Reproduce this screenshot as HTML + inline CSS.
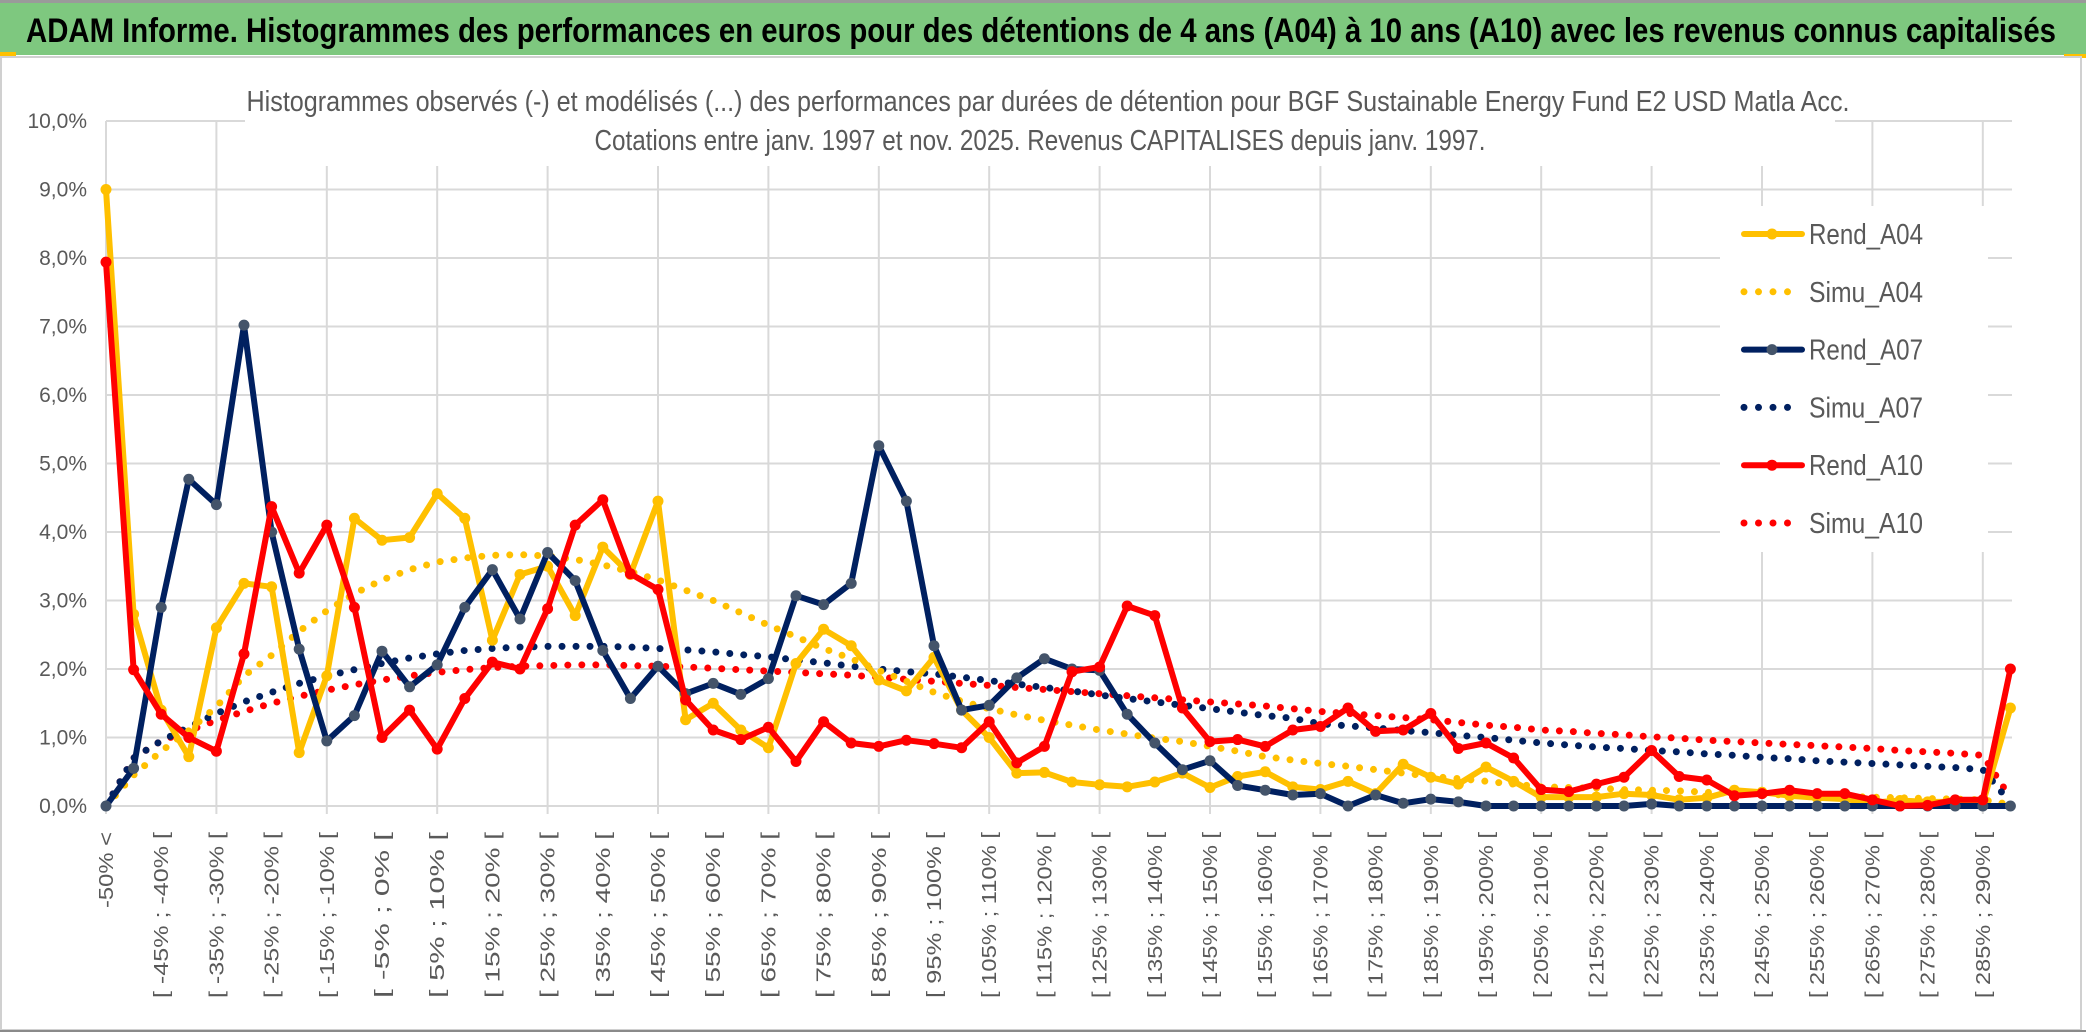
<!DOCTYPE html>
<html><head><meta charset="utf-8">
<style>
html,body{margin:0;padding:0;background:#fff;}
svg{display:block;}
text{font-family:"Liberation Sans Narrow","Liberation Sans",sans-serif;}
</style></head>
<body>
<svg id="chart" width="2086" height="1033" viewBox="0 0 2086 1033" xmlns="http://www.w3.org/2000/svg">
  <rect x="0" y="0" width="2086" height="1033" fill="#fff"/>
  <rect x="0" y="0" width="2086" height="3" fill="#9a9a9a"/>
  <rect x="0" y="3" width="2086" height="52" fill="#7ec87f"/>
  <rect x="0" y="52" width="16" height="4" fill="#ffc000"/>
  <rect x="2064" y="54" width="22" height="4" fill="#ffc000"/>
  <text x="26" y="42" font-size="34" font-weight="bold" fill="#000" textLength="2030" lengthAdjust="spacingAndGlyphs">ADAM Informe. Histogrammes des performances en euros pour des détentions de 4 ans (A04) à 10 ans (A10) avec les revenus connus capitalisés</text>
  <rect x="1" y="57" width="2080" height="973" fill="none" stroke="#d0d0d0" stroke-width="2"/>
  <line x1="0" y1="1031" x2="2086" y2="1031" stroke="#8a8a8a" stroke-width="2"/>
  <g id="grid"></g>
  <rect x="245" y="108" width="1590" height="58" fill="#fff"/>
  <rect x="1720" y="206" width="268" height="346" fill="#fff"/>
  <text x="1048" y="111" font-size="29" fill="#595959" text-anchor="middle" textLength="1603" lengthAdjust="spacingAndGlyphs">Histogrammes observés (-) et modélisés (...) des performances par durées de détention pour BGF Sustainable Energy Fund E2 USD Matla Acc.</text>
  <text x="1040" y="150" font-size="29" fill="#595959" text-anchor="middle" textLength="891" lengthAdjust="spacingAndGlyphs">Cotations entre janv. 1997 et nov. 2025. Revenus CAPITALISES depuis janv. 1997.</text>
  <g id="yaxis"></g>
  <g id="xaxis"></g>
  <g id="series"></g>
  <g id="legend"></g>
</svg>
<script>
const rendA04 = [9.0,2.8,1.4,0.72,2.6,3.25,3.2,0.78,1.9,4.2, 3.88,3.92,4.56,4.2,2.42,3.38,3.5,2.78,3.78,3.38, 4.45,1.26,1.5,1.11,0.85,2.08,2.58,2.34,1.84,1.68, 2.17,1.4,1.0,0.48,0.49,0.35,0.31,0.28,0.35,0.48, 0.27,0.43,0.5,0.28,0.24,0.36,0.18,0.61,0.42,0.32, 0.57,0.36,0.13,0.13,0.13,0.18,0.16,0.09,0.12,0.23, 0.2,0.15,0.12,0.1,0.05,0.08,0.06,0.06,0.04,1.43];
const simuA04 = [0,0.45,0.8,1.1,1.45,1.9,2.2,2.55,2.85,3.1, 3.3,3.45,3.56,3.62,3.66,3.67,3.65,3.6,3.52,3.42, 3.3,3.15,3.0,2.82,2.64,2.47,2.3,2.15,1.98,1.82, 1.66,1.53,1.42,1.33,1.25,1.18,1.11,1.05,0.99,0.94, 0.87,0.8,0.72,0.67,0.62,0.58,0.53,0.48,0.43,0.4, 0.36,0.32,0.28,0.27,0.26,0.24,0.23,0.22,0.2,0.18, 0.17,0.16,0.15,0.14,0.13,0.12,0.11,0.1,0.09,0.02];
const rendA07 = [0,0.55,2.9,4.77,4.4,7.02,4.0,2.29,0.95,1.32, 2.26,1.74,2.06,2.9,3.45,2.73,3.7,3.29,2.27,1.57, 2.04,1.64,1.79,1.63,1.86,3.07,2.94,3.25,5.26,4.45, 2.34,1.4,1.47,1.87,2.15,2.0,1.98,1.34,0.92,0.53, 0.66,0.3,0.23,0.16,0.18,0.0,0.16,0.04,0.1,0.06, 0,0,0,0,0,0,0.03,0,0,0, 0,0,0,0,0,0,0,0,0,0];
const simuA07 = [0,0.7,0.95,1.15,1.35,1.52,1.66,1.79,1.9,1.99, 2.08,2.16,2.22,2.27,2.3,2.32,2.33,2.33,2.33,2.32, 2.3,2.28,2.25,2.21,2.18,2.13,2.09,2.04,2.0,1.96, 1.93,1.88,1.83,1.78,1.73,1.68,1.62,1.57,1.52,1.47, 1.42,1.37,1.32,1.28,1.2,1.17,1.14,1.1,1.07,1.03, 1.0,0.96,0.92,0.89,0.86,0.84,0.81,0.79,0.76,0.74, 0.71,0.69,0.66,0.64,0.62,0.6,0.58,0.56,0.53,0.05];
const rendA10 = [7.94,1.99,1.34,1.0,0.8,2.22,4.37,3.4,4.1,2.9, 1.0,1.4,0.83,1.57,2.1,2.0,2.88,4.1,4.47,3.39, 3.16,1.55,1.11,0.97,1.15,0.65,1.23,0.92,0.87,0.96, 0.91,0.85,1.23,0.63,0.87,1.96,2.03,2.92,2.78,1.43, 0.94,0.97,0.87,1.11,1.16,1.43,1.09,1.11,1.35,0.84, 0.92,0.7,0.24,0.21,0.32,0.42,0.81,0.43,0.38,0.15, 0.18,0.23,0.18,0.18,0.09,0.0,0.01,0.09,0.09,2.0];
const simuA10 = [0,0.7,0.95,1.1,1.25,1.38,1.5,1.6,1.69,1.77, 1.84,1.9,1.95,1.99,2.02,2.04,2.05,2.06,2.06,2.05, 2.04,2.03,2.01,1.99,1.97,1.95,1.93,1.91,1.88,1.85, 1.82,1.79,1.76,1.73,1.7,1.67,1.64,1.61,1.58,1.55, 1.52,1.49,1.46,1.42,1.38,1.35,1.32,1.29,1.26,1.22, 1.18,1.15,1.11,1.09,1.06,1.04,1.01,0.99,0.96,0.94, 0.92,0.9,0.88,0.86,0.84,0.81,0.79,0.77,0.74,0.12];
const yTicks = [0,1,2,3,4,5,6,7,8,9,10];
const yTickLabels = ["0,0%","1,0%","2,0%","3,0%","4,0%","5,0%","6,0%","7,0%","8,0%","9,0%","10,0%"];
const categories = ["-50% <"];
for (let i = 1; i < 70; i++) { const lo = -50 + 5*(i-1); categories.push("[ " + lo + "% ; " + (lo+5) + "% ["); }

const NS = "http://www.w3.org/2000/svg";
const X0 = 106, DX = 27.6, Y0 = 806, PY = 68.5;
function xs(i){ return X0 + i*DX; }
function ys(v){ return Y0 - v*PY; }
function mk(tag, attrs, parent){ const e = document.createElementNS(NS, tag); for (const k in attrs) e.setAttribute(k, attrs[k]); parent.appendChild(e); return e; }

const grid = document.getElementById('grid');
yTicks.forEach(t => {
  const l = mk('line', {x1: X0, x2: 2012, y1: ys(t), y2: ys(t), stroke: '#d9d9d9', 'stroke-width': 2}, grid);
  
  
});
for (let i = 0; i < categories.length; i += 4) {
  const l = mk('line', {x1: xs(i), x2: xs(i), y1: ys(10), y2: Y0 + 8, stroke: '#d9d9d9', 'stroke-width': 2}, grid);
  
  
}

const yaxis = document.getElementById('yaxis');
yTicks.forEach((t, k) => {
  const tx = mk('text', {x: 87, y: ys(t) + 7, 'font-size': 21, fill: '#595959', 'text-anchor': 'end'}, yaxis);
  tx.textContent = yTickLabels[k];
  
  
});

const xaxis = document.getElementById('xaxis');
categories.forEach((c, i) => {
  if (i % 2) return;
  const x = xs(i) + 7;
  const tx = mk('text', {x: x, y: 832, 'font-size': 20, fill: '#595959', 'text-anchor': 'end', transform: 'rotate(-90 ' + x + ' 832)', style: 'font-family:"Liberation Sans",sans-serif'}, xaxis);
  tx.textContent = c;
  tx.setAttribute('textLength', i === 0 ? 76 : 166);
  tx.setAttribute('lengthAdjust', 'spacingAndGlyphs');
  
  
});

const series = document.getElementById('series');
function pts(arr){ return arr.map((v, i) => xs(i).toFixed(1) + ',' + ys(v).toFixed(1)).join(' '); }
function dotted(arr, color, name){
  const p = mk('polyline', {points: pts(arr), fill: 'none', stroke: color, 'stroke-width': 7, 'stroke-linecap': 'round', 'stroke-dasharray': '0 14'}, series);
  
  
}
function solid(arr, color, mcolor, name){
  const g = mk('g', {}, series);
  
  
  mk('polyline', {points: pts(arr), fill: 'none', stroke: color, 'stroke-width': 6, 'stroke-linejoin': 'round'}, g);
  arr.forEach((v, i) => {
    const c = mk('circle', {cx: xs(i), cy: ys(v), r: 5.5, fill: mcolor}, g);
    
    
  });
}
dotted(simuA10, '#ff0000', 'simu-a10-line');
dotted(simuA07, '#002060', 'simu-a07-line');
dotted(simuA04, '#ffc000', 'simu-a04-line');
solid(rendA04, '#ffc000', '#ffc000', 'rend-a04-line');
solid(rendA07, '#002060', '#44546a', 'rend-a07-line');
solid(rendA10, '#ff0000', '#ff0000', 'rend-a10-line');

const legend = document.getElementById('legend');
const legItems = [
  {label: 'Rend_A04', color: '#ffc000', m: '#ffc000', dot: false},
  {label: 'Simu_A04', color: '#ffc000', dot: true},
  {label: 'Rend_A07', color: '#002060', m: '#44546a', dot: false},
  {label: 'Simu_A07', color: '#002060', dot: true},
  {label: 'Rend_A10', color: '#ff0000', m: '#ff0000', dot: false},
  {label: 'Simu_A10', color: '#ff0000', dot: true}
];
legItems.forEach((it, k) => {
  const y = 234 + k * 57.8;
  const g = mk('g', {}, legend);
  
  
  if (it.dot) {
    mk('line', {x1: 1744, x2: 1800, y1: y, y2: y, stroke: it.color, 'stroke-width': 7, 'stroke-linecap': 'round', 'stroke-dasharray': '0 14.5'}, g);
  } else {
    mk('line', {x1: 1744, x2: 1802, y1: y, y2: y, stroke: it.color, 'stroke-width': 6, 'stroke-linecap': 'round'}, g);
    mk('circle', {cx: 1772, cy: y, r: 5.5, fill: it.m}, g);
  }
  const t = mk('text', {x: 1809, y: y + 10, 'font-size': 29, fill: '#595959', textLength: 114, lengthAdjust: 'spacingAndGlyphs'}, g);
  t.textContent = it.label;
});
</script>
</body></html>
